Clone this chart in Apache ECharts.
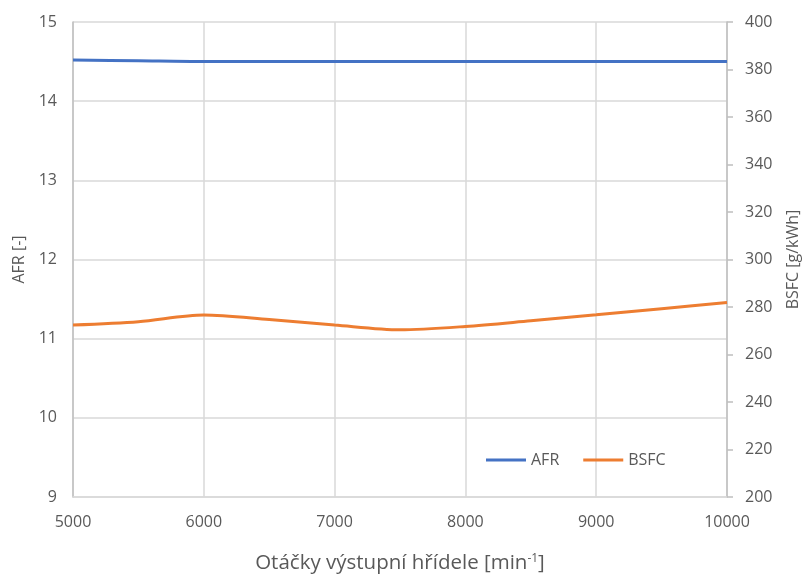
<!DOCTYPE html>
<html><head><meta charset="utf-8">
<script src="https://cdn.jsdelivr.net/npm/echarts@6/dist/echarts.min.js"></script>
<style>html,body{margin:0;padding:0;background:#fff;overflow:hidden}#c{width:803px;height:574px}</style>
</head><body><div id="c"></div>
<script>
const rpm = [5000, 5500, 6000, 6500, 7000, 7500, 8000, 8500, 9000, 9500, 10000];
const afr = [14.52, 14.51, 14.50, 14.50, 14.50, 14.50, 14.50, 14.50, 14.50, 14.50, 14.50];
const bsfc = [272.4, 273.8, 276.6, 274.7, 272.4, 270.4, 271.8, 274.2, 276.7, 279.3, 281.9];
const leftTicks = {min: 9, max: 15, interval: 1};
const rightTicks = {min: 200, max: 400, interval: 20};
const xTicks = {min: 5000, max: 10000, interval: 1000};

const FONT = 'Open Sans';
const TXT = '#595959';
const chart = echarts.init(document.getElementById('c'), null, {renderer: 'canvas'});
chart.setOption({
  animation: false,
  backgroundColor: '#fff',
  textStyle: {fontFamily: FONT},
  grid: {left: 73, right: 76, top: 22, bottom: 77, containLabel: false, outerBoundsMode: 'none'},
  legend: {
    left: 481, top: 447, itemWidth: 40, itemHeight: 3, itemGap: 24, icon: 'rect',
    textStyle: {color: TXT, fontSize: 16, fontFamily: FONT},
    data: ['AFR', 'BSFC']
  },
  xAxis: {
    type: 'value', min: xTicks.min, max: xTicks.max, interval: xTicks.interval,
    axisLine: {lineStyle: {color: '#d9d9d9', width: 1.5}},
    axisTick: {show: false},
    splitLine: {lineStyle: {color: '#d9d9d9', width: 1.5}},
    axisLabel: {color: TXT, fontSize: 16, margin: 17, fontFamily: FONT, formatter: v => String(v)},
    name: '{a|Otáčky výstupní hřídele [min}{s|-1}{a|]}',
    nameLocation: 'middle', nameGap: 56,
    nameTextStyle: {
      rich: {
        a: {fontSize: 20.5, color: TXT, fontFamily: FONT},
        s: {fontSize: 12, color: TXT, fontFamily: FONT, verticalAlign: 'top', padding: [0,0,9,0]}
      }
    }
  },
  yAxis: [{
    type: 'value', min: leftTicks.min, max: leftTicks.max, interval: leftTicks.interval,
    position: 'left',
    axisLine: {show: true, lineStyle: {color: '#bfbfbf', width: 1.5}},
    axisTick: {show: false},
    splitLine: {lineStyle: {color: '#d9d9d9', width: 1.5}},
    axisLabel: {color: TXT, fontSize: 16, margin: 16, fontFamily: FONT},
    name: 'AFR [-]', nameLocation: 'middle', nameGap: 43, nameRotate: 90,
    nameTextStyle: {color: TXT, fontSize: 16, fontFamily: FONT}
  }, {
    type: 'value', min: rightTicks.min, max: rightTicks.max, interval: rightTicks.interval,
    position: 'right',
    axisLine: {show: true, lineStyle: {color: '#bfbfbf', width: 1.5}},
    axisTick: {show: true, inside: false, length: 6, lineStyle: {color: '#bfbfbf', width: 1.5}},
    splitLine: {show: false},
    axisLabel: {color: TXT, fontSize: 16, margin: 18, fontFamily: FONT},
    name: 'BSFC [g/kWh]', nameLocation: 'middle', nameGap: 58, nameRotate: 90,
    nameTextStyle: {color: TXT, fontSize: 16, fontFamily: FONT}
  }],
  series: [{
    name: 'AFR', type: 'line', yAxisIndex: 0, smooth: 0.3, showSymbol: false,
    data: rpm.map((x, i) => [x, afr[i]]),
    lineStyle: {color: '#4472c4', width: 3}, itemStyle: {color: '#4472c4'}
  }, {
    name: 'BSFC', type: 'line', yAxisIndex: 1, smooth: 0.3, showSymbol: false,
    data: rpm.map((x, i) => [x, bsfc[i]]),
    lineStyle: {color: '#ed7d31', width: 3}, itemStyle: {color: '#ed7d31'}
  }]
});
</script></body></html>
